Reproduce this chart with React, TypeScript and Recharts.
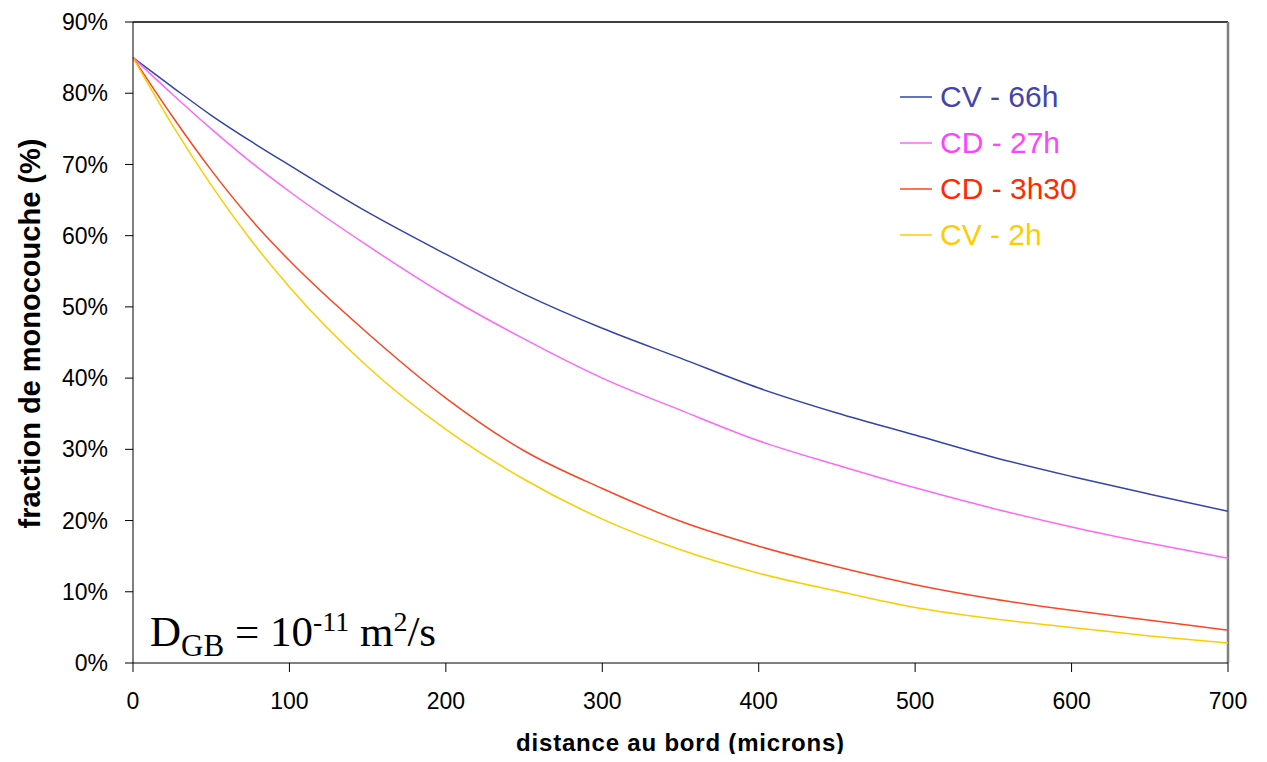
import React from 'react';
import { LineChart, Line, XAxis, YAxis, ReferenceLine } from 'recharts';

// distance from the edge (microns)
const distances = [0, 25, 50, 75, 100, 150, 200, 250, 300, 350, 400, 450, 500, 550, 600, 650, 700];

// monolayer fraction (%) per treatment
const cv66h = [85, 80.9, 76.9, 73.3, 69.9, 63.3, 57.4, 51.8, 47.0, 42.8, 38.6, 35.1, 32.0, 28.9, 26.2, 23.7, 21.3];
const cd27h = [85, 79.9, 75.0, 70.4, 66.2, 58.6, 51.6, 45.5, 40.0, 35.5, 31.2, 27.8, 24.6, 21.7, 19.1, 16.8, 14.7];
const cd3h30 = [85, 76.8, 69.2, 62.4, 56.5, 46.3, 37.2, 29.8, 24.5, 19.9, 16.4, 13.5, 11.0, 9.0, 7.4, 6.0, 4.6];
const cv2h = [85, 75.6, 67.1, 59.5, 52.8, 41.6, 32.8, 25.8, 20.2, 15.9, 12.6, 10.1, 7.8, 6.2, 5.0, 3.8, 2.8];

const xTicks = [0, 100, 200, 300, 400, 500, 600, 700];
const yTicks = [0, 10, 20, 30, 40, 50, 60, 70, 80, 90];

const series = [
  { key: 'cv66h', name: 'CV - 66h', line: '#3344aa', text: '#4444aa' },
  { key: 'cd27h', name: 'CD - 27h', line: '#ff66ff', text: '#ff44ff' },
  { key: 'cd3h30', name: 'CD - 3h30', line: '#ff4422', text: '#ff2a00' },
  { key: 'cv2h', name: 'CV - 2h', line: '#ffcc00', text: '#ffcc00' },
];

const data = distances.map((d, i) => ({
  d,
  cv66h: cv66h[i],
  cd27h: cd27h[i],
  cd3h30: cd3h30[i],
  cv2h: cv2h[i],
}));

const font = '"Liberation Sans", Arial, sans-serif';

export default function App() {
  return (
    <div style={{ position: 'relative', width: 1267, height: 762, background: '#fff', margin: -8 }}>
      <LineChart width={1267} height={762} data={data} margin={{ top: 22, right: 39, left: 0, bottom: 0 }}>
        <XAxis
          dataKey="d"
          type="number"
          domain={[0, 700]}
          ticks={xTicks}
          height={99}
          tickSize={9}
          tickMargin={21}
          stroke="#000"
          tick={{ fill: '#000', fontSize: 23, fontFamily: font }}
          label={{ value: 'distance au bord (microns)', position: 'insideBottom', offset: 11, fill: '#000', fontSize: 24, fontWeight: 'bold', letterSpacing: 0.8, fontFamily: font }}
        />
        <YAxis
          type="number"
          domain={[0, 90]}
          ticks={yTicks}
          width={133}
          tickSize={8}
          tickMargin={17}
          stroke="#000"
          tickFormatter={(v: number) => `${v}%`}
          tick={{ fill: '#000', fontSize: 23, fontFamily: font }}
          label={{ value: 'fraction de monocouche (%)', angle: -90, position: 'insideLeft', offset: 30, dy: 186, fill: '#000', fontSize: 29, fontWeight: 'bold', fontFamily: font }}
        />
        {/* plot frame: black top edge, grey right edge */}
        <ReferenceLine y={90} stroke="#000" strokeWidth={1.5} />
        <ReferenceLine x={700} stroke="#808080" strokeWidth={2.5} />
        {series.map((s) => (
          <Line
            key={s.key}
            type="monotone"
            dataKey={s.key}
            name={s.name}
            stroke={s.line}
            strokeWidth={1.5}
            dot={false}
            isAnimationActive={false}
          />
        ))}
      </LineChart>

      {/* legend, placed top right like the original */}
      <div style={{ position: 'absolute', left: 900, top: 74, fontFamily: font }}>
        {series.map((s) => (
          <div key={s.key} style={{ display: 'flex', alignItems: 'center', height: 46 }}>
            <svg width={32} height={4} style={{ marginRight: 8 }}>
              <line x1={0} y1={2} x2={32} y2={2} stroke={s.line} strokeWidth={1.5} />
            </svg>
            <span style={{ color: s.text, fontSize: 30, lineHeight: '46px' }}>{s.name}</span>
          </div>
        ))}
      </div>

      <div style={{ position: 'absolute', left: 150, top: 608, fontFamily: '"Liberation Serif", "Times New Roman", serif', fontSize: 43, color: '#000', lineHeight: 1, whiteSpace: 'nowrap' }}>
        D<sub style={{ fontSize: 31 }}>GB</sub> = 10<sup style={{ fontSize: 28 }}>-11</sup> m<sup style={{ fontSize: 28 }}>2</sup>/s
      </div>
    </div>
  );
}
